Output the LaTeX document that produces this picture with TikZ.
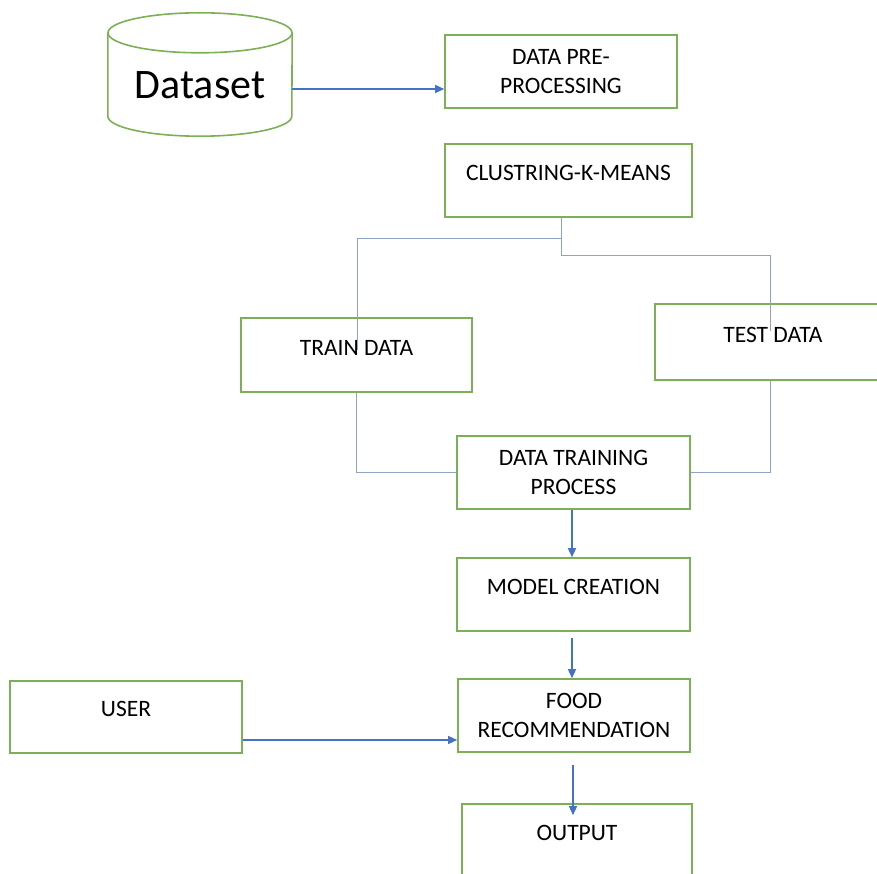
\documentclass[tikz,border=0pt]{standalone}
\usepackage{fontspec}
\setmainfont{Carlito}
\usetikzlibrary{arrows.meta, positioning}
\definecolor{BoxGreen}{HTML}{7DAF55}
\definecolor{ArrowBlue}{HTML}{4472C4}
\definecolor{LinkBlue}{HTML}{8FA3C4}

\begin{document}
\begin{tikzpicture}[
			x=1pt, y=-1pt,
			box/.style={rectangle, draw=BoxGreen, line width=1.6pt, minimum height=73pt, minimum width=232pt, align=center, inner sep=0pt, font=\fontsize{23.5}{29}\selectfont},
			lift/.style={text depth=#1},
			cyl/.style={draw=BoxGreen, line width=1.6pt},
			arrow/.style={-{Triangle[length=9pt, width=8pt]}, draw=ArrowBlue, line width=1.4pt},
			link/.style={draw=LinkBlue, line width=1pt}
			]
			\useasboundingbox (0,0) rectangle (877,874);
			% Nodes
			\node (data) [minimum width=184pt, minimum height=123pt, inner sep=0pt, text height=49pt, font=\fontsize{42}{42}\selectfont] at (200,74.5) {Dataset};
			\node (prep) [box] at (561,71.5) {DATA PRE-\\PROCESSING};
			\node (clus) [box, minimum width=247pt, lift=16pt] at (568.5,180.5) {CLUSTRING-K-MEANS};
			\node (train) [box, minimum width=231pt, minimum height=74pt, lift=14pt] at (356.5,355) {TRAIN DATA};
			\node (test) [box, minimum width=236pt, minimum height=76pt, lift=14pt] at (773,342) {TEST DATA};
			\node (dtp) [box, minimum width=233pt] at (573.5,472.5) {DATA TRAINING\\PROCESS};
			\node (model) [box, minimum width=233pt, lift=16pt] at (573.5,594.5) {MODEL CREATION};
			\node (food) [box] at (574,715.5) {FOOD\\RECOMMENDATION};
			\node (user) [box, minimum height=72pt, lift=16pt] at (126,717) {USER};
			\node (out) [box, minimum width=230pt, lift=15pt] at (577,840.5) {OUTPUT};
			
			% Dataset cylinder
			\draw[cyl] ([yshift=-20pt]data.north) ellipse (92pt and 20pt);
			\draw[cyl] ([yshift=-20pt]data.north west) -- ([yshift=20pt]data.south west) arc (180:360:92pt and 20pt) -- ([yshift=-20pt]data.north east);
			
			% Arrows
			\draw[arrow] ([yshift=-14.5pt]data.east) -- ([yshift=-14.5pt]data.east -| prep.west);
			\draw[arrow] ([xshift=-1.5pt]dtp.south) -- ([xshift=-1.5pt]dtp.south |- model.north);
			\draw[arrow, shorten <=6pt] ([xshift=-1.5pt]model.south) -- ([xshift=-1.5pt]model.south |- food.north);
			\draw[arrow, shorten <=12pt, shorten >=-12pt] ([xshift=-1pt]food.south) -- ([xshift=-1pt]food.south |- out.north);
			\draw[arrow] ([yshift=-23pt]user.east) -- ([yshift=-23pt]user.east -| food.west);
			
			% Split lines
			\draw[link] ([xshift=-7.5pt]clus.south) -- ++(0,21) coordinate (split) -| ([xshift=0.5pt,yshift=5pt]train.center);
			\draw[link] (split) -- ++(0,17) -| ([xshift=-3pt,yshift=11pt]test.center);
			\draw[link] (train.south) |- (dtp.west);
			\draw[link] ([xshift=-3pt]test.south) |- (dtp.east);
		\end{tikzpicture}
\end{document}
